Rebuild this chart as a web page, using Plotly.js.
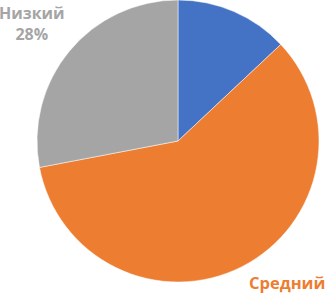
<!DOCTYPE html>
<html><head><meta charset="utf-8">
<script src="https://cdn.plot.ly/plotly-3.0.1.min.js"></script>
<style>html,body{margin:0;padding:0;background:#fff}#c{width:326px;height:294px}</style>
</head><body><div id="c"></div>
<script>
const categories = ["Высокий", "Средний", "Низкий"];
const values = [13, 59, 28];
const colors = ["#4472C4", "#ED7D31", "#A5A5A5"];

const trace = {
  type: "pie",
  labels: categories,
  values: values,
  sort: false,
  direction: "clockwise",
  rotation: 0,
  marker: {colors: colors, line: {color: "#ffffff", width: 0.5}},
  textinfo: "none",
  hoverinfo: "label+percent",
  domain: {x: [0.1135, 0.9785], y: [0.0408, 1.0]},
  showlegend: false
};

const annotations = [
  {x: 32/326, y: 1 - 24/294, text: "<b>" + categories[2] + "<br>" + values[2] + "%</b>",
   font: {color: colors[2], size: 16}},
  {x: 287/326, y: 1 - 282/294, text: "<b>" + categories[1] + "</b>",
   font: {color: colors[1], size: 16.5}}
].map(a => Object.assign({xref: "paper", yref: "paper", showarrow: false,
  xanchor: "center", yanchor: "middle", align: "center"}, a,
  {font: Object.assign({family: "Open Sans, Liberation Sans, sans-serif"}, a.font)}));

const layout = {
  width: 326, height: 294,
  margin: {l: 0, r: 0, t: 0, b: 0},
  paper_bgcolor: "#ffffff",
  annotations: annotations
};
Plotly.newPlot("c", [trace], layout, {staticPlot: true, displayModeBar: false});
</script></body></html>
